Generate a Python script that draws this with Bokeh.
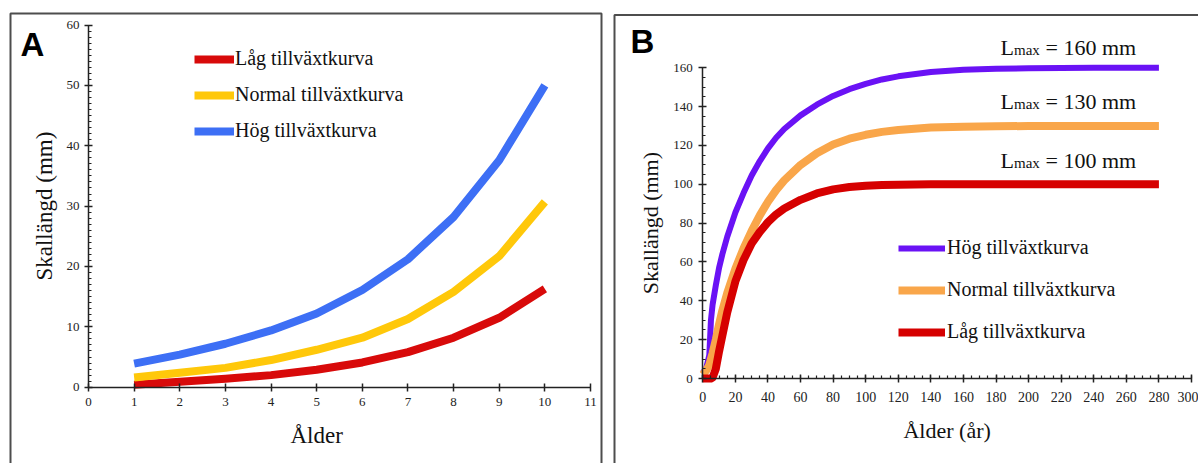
import numpy as np
from bokeh.plotting import figure
from bokeh.layouts import row
from bokeh.models import (SingleIntervalTicker, Label, BoxAnnotation, Legend,
                          LegendItem, Range1d, LinearAxis)
from bokeh.embed import file_html
from bokeh.resources import INLINE

# ---------------- Panel A data ----------------
ages_a = [1, 2, 3, 4, 5, 6, 7, 8, 9, 10]
lag_a = [0.4, 0.9, 1.4, 2.0, 2.9, 4.1, 5.8, 8.2, 11.5, 16.3]
normal_a = [1.6, 2.4, 3.2, 4.5, 6.2, 8.2, 11.3, 15.8, 21.7, 30.7]
hog_a = [3.9, 5.4, 7.2, 9.4, 12.2, 16.1, 21.2, 28.2, 37.6, 50.0]

# ---------------- Panel B data ----------------
ages_b = [0, 2, 4, 5, 6, 8, 10, 12, 15, 20, 25, 30, 35, 40, 45, 50, 60, 70, 80,
          90, 100, 110, 120, 140, 160, 180, 200, 240, 280]
hog_b = [3, 5, 12, 30, 38, 48, 57, 64, 73, 85.5, 95.5, 104.5, 112, 118.5, 124,
         128.5, 135.5, 141, 145.5, 149, 151.7, 154, 155.6, 157.8, 159, 159.5,
         159.8, 160, 160]
normal_b = [2, 4, 7, 10, 13, 20, 28, 35, 44, 56.5, 67, 76, 84, 91, 97, 102, 110,
            116, 120.5, 123.5, 125.5, 127, 128, 129.2, 129.7, 129.9, 130, 130, 130]
lag_b = [0, 0, 0, 0, 0.5, 5, 14, 22, 34, 50, 61, 69.5, 75.5, 80.5, 84.5, 87.5,
         92, 95.3, 97.4, 98.6, 99.3, 99.6, 99.8, 100, 100, 100, 100, 100, 100]
lmax = [160, 130, 100]

labels = ["Låg tillväxtkurva", "Normal tillväxtkurva", "Hög tillväxtkurva"]

SERIF = "Liberation Serif"
SANS = "Liberation Sans"
AXC = "#222222"
TXT = "#222222"
H = 463


class Map:
    """pixel <-> data mapping for a panel whose frame covers the whole canvas"""
    def __init__(self, W, x0, x0px, x1, x1px, y0, y0py, y1, y1py):
        self.sx = (x1px - x0px) / (x1 - x0)
        self.sy = (y0py - y1py) / (y1 - y0)
        self.x0, self.x0px, self.y0, self.y0py = x0, x0px, y0, y0py
        self.xr = (self.dx(0), self.dx(W))
        self.yr = (self.dy(H), self.dy(0))

    def dx(self, px):
        return self.x0 + (px - self.x0px) / self.sx

    def dy(self, py):
        return self.y0 + (self.y0py - py) / self.sy


def make_fig(W, m):
    p = figure(width=W, height=H, x_range=Range1d(*m.xr), y_range=Range1d(*m.yr),
               output_backend="svg", toolbar_location=None,
               x_axis_location=None, y_axis_location=None, min_border=0)
    p.xgrid.visible = False
    p.ygrid.visible = False
    p.outline_line_color = None
    p.background_fill_color = "white"
    p.border_fill_color = "white"
    return p


def add_axes(p, xb, yb, xint, xminor, yint, yminor, xstand, ystand, xfs, yfs):
    xa = LinearAxis(fixed_location=0, bounds=xb,
                    ticker=SingleIntervalTicker(interval=xint, num_minor_ticks=xminor))
    ya = LinearAxis(fixed_location=0, bounds=yb,
                    ticker=SingleIntervalTicker(interval=yint, num_minor_ticks=yminor))
    for ax in (xa, ya):
        ax.axis_line_color = AXC
        ax.axis_line_width = 1.5
        ax.major_tick_line_color = AXC
        ax.major_tick_line_width = 1.5
        ax.minor_tick_line_color = AXC
        ax.minor_tick_line_width = 1.2
        ax.major_tick_in = 4
        ax.major_tick_out = 4
        ax.minor_tick_in = 3
        ax.minor_tick_out = 0
        ax.major_label_text_font = SERIF
        ax.major_label_text_color = TXT
    xa.major_label_text_font_size = xfs
    ya.major_label_text_font_size = yfs
    xa.major_label_standoff = xstand
    ya.major_label_standoff = ystand
    p.add_layout(xa, "below")
    p.add_layout(ya, "left")


def txt(p, x, y, s, size, align="left", baseline="middle", angle=0,
        font=SERIF, style="normal", color="#111111"):
    p.add_layout(Label(x=x, y=y, text=s, text_align=align, text_baseline=baseline,
                       angle=angle, text_font=font, text_font_style=style,
                       text_font_size=size, text_color=color))


def border(p, m, l, r, t, b):
    p.add_layout(BoxAnnotation(left=m.dx(l), right=m.dx(r), top=m.dy(t),
                               bottom=m.dy(b), fill_alpha=0, line_alpha=1,
                               line_color="#4d4d4d", line_width=2))


# ================= Panel A =================
WA = 607
mA = Map(WA, 0, 88, 11, 590, 0, 386.7, 60, 24.5)
pA = make_fig(WA, mA)
add_axes(pA, (0, 11), (0, 60), 1, 0, 10, 10, 7, 5, "13px", "13px")

cA = ["#d80a0a", "#ffc80a", "#3d6ff5"]
rA = []
for ys, c in zip([lag_a, normal_a, hog_a], cA):
    rA.append(pA.line(ages_a, ys, line_width=8, line_color=c, line_cap="butt",
                      line_join="round"))

legA = Legend(items=[LegendItem(label=l, renderers=[r]) for l, r in zip(labels, rA)],
              location=(194, H - 142.7), orientation="vertical", glyph_width=40,
              glyph_height=24, label_height=24, label_standoff=1, spacing=12,
              padding=0, margin=0, border_line_color=None,
              background_fill_alpha=0, label_text_font=SERIF,
              label_text_font_size="20px", label_text_color="#111111")
pA.add_layout(legA)

txt(pA, 5, mA.dy(435), "Ålder", "23px", align="center")
txt(pA, mA.dx(44), 30, "Skallängd (mm)", "23px", align="center",
    angle=np.pi / 2)
txt(pA, mA.dx(20), mA.dy(43.5), "A", "33px", font=SANS, style="bold",
    color="#000000")
border(pA, mA, 10, 601, 13, 600)

# ================= Panel B =================
WB = 591
mB = Map(WB, 0, 95.3, 300, 584, 0, 378, 160, 67.3)
pB = make_fig(WB, mB)
add_axes(pB, (0, 300), (0, 160), 20, 4, 20, 4, 9, 6, "14px", "13px")

cB = ["#6a12f5", "#f9a64a", "#d60000"]
r_hog = pB.line(ages_b, hog_b, line_width=6, line_color=cB[0], line_join="round")
r_norm = pB.line(ages_b, normal_b, line_width=8, line_color=cB[1], line_join="round")
r_lag = pB.line(ages_b, lag_b, line_width=8, line_color=cB[2], line_join="round")

legB = Legend(items=[LegendItem(label=labels[2], renderers=[r_hog]),
                     LegendItem(label=labels[1], renderers=[r_norm]),
                     LegendItem(label=labels[0], renderers=[r_lag])],
              location=(291, H - 343.7), orientation="vertical", glyph_width=47,
              glyph_height=24, label_height=24, label_standoff=2, spacing=18,
              padding=0, margin=0, border_line_color=None,
              background_fill_alpha=0, label_text_font=SERIF,
              label_text_font_size="20px", label_text_color="#111111")
pB.add_layout(legB)

for val, pc in zip(lmax, [47, 100.8, 160.3]):
    txt(pB, mB.dx(1000 - 607), mB.dy(pc), "L", "22px")
    txt(pB, mB.dx(1013.5 - 607), mB.dy(pc + 2.5), "max", "15px")
    txt(pB, mB.dx(1045 - 607), mB.dy(pc), "= %d mm" % val, "22px")

txt(pB, 150, mB.dy(430), "Ålder (år)", "22px", align="center")
txt(pB, mB.dx(650 - 607), 80, "Skallängd (mm)", "22px", align="center",
    angle=np.pi / 2)
txt(pB, mB.dx(630 - 607), mB.dy(40.8), "B", "33px", font=SANS, style="bold",
    color="#000000")
border(pB, mB, 7, 900, 14.5, 600)

layout = row(pA, pB)
open("out.html", "w").write(file_html(layout, INLINE))
